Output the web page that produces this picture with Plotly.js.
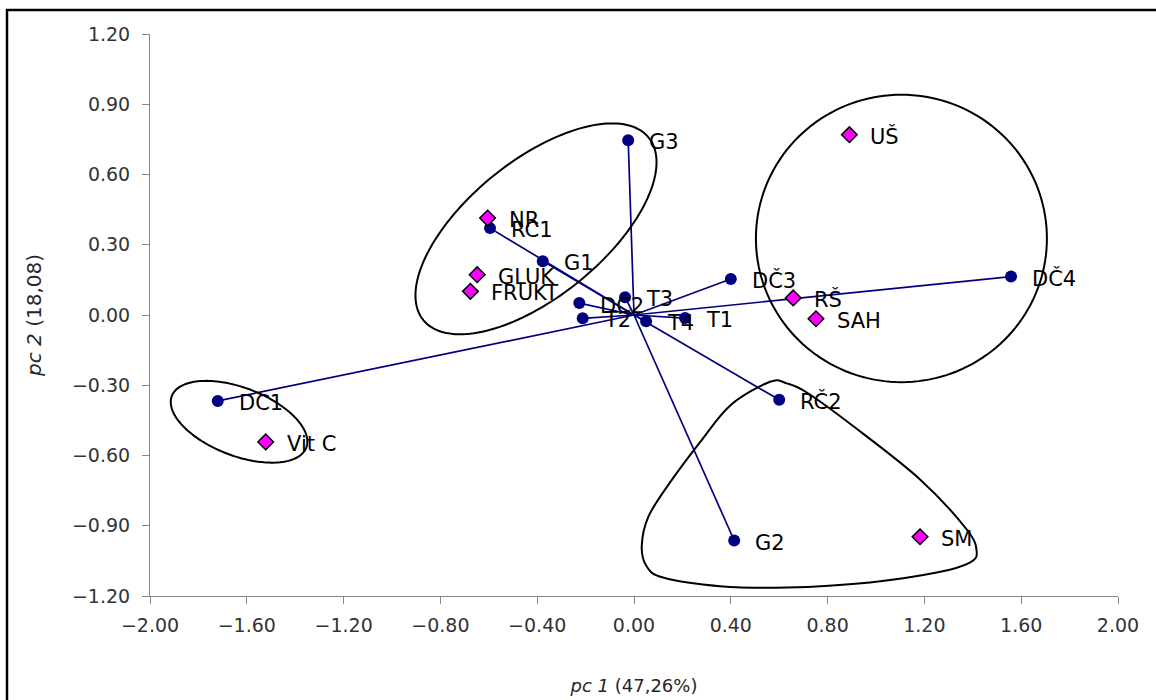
<!DOCTYPE html>
<html>
<head>
<meta charset="utf-8">
<script src="https://cdn.plot.ly/plotly-3.0.1.min.js"></script>
<style>
  html, body { margin: 0; padding: 0; background: #fff; }
  #chart { width: 1156px; height: 700px; }
</style>
</head>
<body>
<div id="chart"></div>
<script>
// PCA biplot: sample scores (navy, joined to the origin) and traits (magenta diamonds)
const sampleNames = ['G3', 'RC1', 'G1', 'DČ2', 'T3', 'T2', 'T4', 'T1', 'DČ3', 'DČ4', 'RČ2', 'G2', 'DC1'];
const samplePc1 = [-0.024, -0.595, -0.377, -0.226, -0.037, -0.212, 0.050, 0.211, 0.400, 1.558, 0.600, 0.414, -1.720];
const samplePc2 = [0.746, 0.371, 0.230, 0.051, 0.076, -0.014, -0.027, -0.013, 0.154, 0.164, -0.362, -0.963, -0.367];

const traitNames = ['NR', 'GLUK', 'FRUKT', 'UŠ', 'RŠ', 'SAH', 'Vit C', 'SM'];
const traitPc1 = [-0.605, -0.648, -0.676, 0.890, 0.658, 0.752, -1.522, 1.182];
const traitPc2 = [0.414, 0.172, 0.101, 0.770, 0.073, -0.016, -0.542, -0.947];

const xTicks = [-2.0, -1.6, -1.2, -0.8, -0.4, 0.0, 0.4, 0.8, 1.2, 1.6, 2.0];
const yTicks = [-1.2, -0.9, -0.6, -0.3, 0.0, 0.3, 0.6, 0.9, 1.2];

// page geometry
const W = 1156, H = 700;
const M = { l: 150, r: 38, t: 34, b: 104 };
const xRange = [-2, 2], yRange = [-1.2, 1.2];
const pxX = (W - M.l - M.r) / (xRange[1] - xRange[0]);
const pxY = (H - M.t - M.b) / (yRange[1] - yRange[0]);

// group outlines: ellipses given by centre (data units), semi-axes and tilt (screen px / deg)
function ellipsePath(cx, cy, aPx, bPx, angDeg) {
  const phi = angDeg * Math.PI / 180;
  const n = 160;
  let d = '';
  for (let i = 0; i <= n; i++) {
    const t = 2 * Math.PI * i / n;
    const dx = aPx * Math.cos(t) * Math.cos(phi) - bPx * Math.sin(t) * Math.sin(phi);
    const dy = aPx * Math.cos(t) * Math.sin(phi) + bPx * Math.sin(t) * Math.cos(phi);
    const x = cx + dx / pxX, y = cy + dy / pxY;
    d += (i === 0 ? 'M' : 'L') + x.toFixed(4) + ',' + y.toFixed(4);
  }
  return d + 'Z';
}

// closed smooth outline through a ring of points (Catmull-Rom as cubic Béziers)
function smoothClosedPath(xs, ys) {
  const n = xs.length;
  const P = i => [xs[(i + n) % n], ys[(i + n) % n]];
  let d = 'M' + xs[0] + ',' + ys[0];
  for (let i = 0; i < n; i++) {
    const p0 = P(i - 1), p1 = P(i), p2 = P(i + 1), p3 = P(i + 2);
    const c1 = [p1[0] + (p2[0] - p0[0]) / 6, p1[1] + (p2[1] - p0[1]) / 6];
    const c2 = [p2[0] - (p3[0] - p1[0]) / 6, p2[1] - (p3[1] - p1[1]) / 6];
    d += 'C' + c1[0].toFixed(4) + ',' + c1[1].toFixed(4) + ' ' +
         c2[0].toFixed(4) + ',' + c2[1].toFixed(4) + ' ' +
         p2[0].toFixed(4) + ',' + p2[1].toFixed(4);
  }
  return d + 'Z';
}

const blobX = [0.562, 0.400, 0.273, 0.149, 0.060, 0.032, 0.052, 0.120, 0.355, 0.631, 0.975, 1.251, 1.388, 1.416, 1.375, 1.182, 0.905, 0.714, 0.631];
const blobY = [-0.285, -0.384, -0.543, -0.715, -0.860, -0.987, -1.073, -1.121, -1.158, -1.164, -1.142, -1.100, -1.057, -1.009, -0.916, -0.702, -0.474, -0.331, -0.292];

// vectors from the origin to every sample score
const vecX = [], vecY = [];
samplePc1.forEach((v, i) => { vecX.push(0, v, null); vecY.push(0, samplePc2[i], null); });

const navy = '#000080';
const traces = [
  { x: vecX, y: vecY, mode: 'lines', type: 'scatter', hoverinfo: 'skip',
    line: { color: navy, width: 1.7 } },
  { x: samplePc1, y: samplePc2, text: sampleNames, mode: 'markers', type: 'scatter',
    marker: { symbol: 'circle', size: 12, color: navy } },
  { x: traitPc1, y: traitPc2, text: traitNames, mode: 'markers', type: 'scatter',
    marker: { symbol: 'diamond', size: 12, color: '#FF00FF', line: { color: '#000', width: 1.5 } } }
];

const labelFont = { family: 'DejaVu Sans, sans-serif', size: 21, color: '#000' };
const annotations = [];
sampleNames.forEach((n, i) => annotations.push({
  x: samplePc1[i], y: samplePc2[i], text: n, showarrow: false,
  xanchor: 'left', yanchor: 'middle', xshift: 19, yshift: -2, font: labelFont }));
traitNames.forEach((n, i) => annotations.push({
  x: traitPc1[i], y: traitPc2[i], text: n, showarrow: false,
  xanchor: 'left', yanchor: 'middle', xshift: 19, yshift: -2, font: labelFont }));

const outline = { color: '#000', width: 2 };
const shapes = [
  { type: 'path', xref: 'x', yref: 'y', path: ellipsePath(-0.405, 0.368, 145, 68, 39), line: outline },
  { type: 'path', xref: 'x', yref: 'y', path: ellipsePath(-1.632, -0.456, 72, 34, -21), line: outline },
  { type: 'path', xref: 'x', yref: 'y', path: ellipsePath(1.105, 0.327, 145.5, 143.7, 0), line: outline },
  { type: 'path', xref: 'x', yref: 'y', path: smoothClosedPath(blobX, blobY), line: outline },
  // frame around the figure
  { type: 'rect', xref: 'paper', yref: 'paper', layer: 'below',
    x0: (7 - M.l) / (W - M.l - M.r), x1: 3,
    y0: -3, y1: 1 + (M.t - 10) / (H - M.t - M.b),
    line: { color: '#000', width: 2.5 } }
];

const tickFont = { family: 'DejaVu Sans, sans-serif', size: 19, color: '#333333' };
const axisBase = {
  showgrid: false, zeroline: false, showline: true, linecolor: '#868686', linewidth: 1,
  ticks: 'outside', ticklen: 7, tickcolor: '#868686', tickwidth: 1,
  tickformat: '.2f', tickfont: tickFont, tickmode: 'array'
};

const layout = {
  width: W, height: H,
  margin: M,
  paper_bgcolor: '#fff', plot_bgcolor: '#fff',
  showlegend: false,
  xaxis: Object.assign({}, axisBase, {
    range: xRange, tickvals: xTicks, ticklabelstandoff: 5,
    title: { text: '<i>pc 1</i> (47,26%)', standoff: 44,
             font: { family: 'DejaVu Sans, sans-serif', size: 18, color: '#262626' } }
  }),
  yaxis: Object.assign({}, axisBase, {
    range: yRange, tickvals: yTicks, ticklabelstandoff: 8,
    title: { text: '<i>pc 2</i> (18,08)', standoff: 24,
             font: { family: 'DejaVu Sans, sans-serif', size: 20, color: '#262626' } }
  }),
  shapes: shapes,
  annotations: annotations
};

Plotly.newPlot('chart', traces, layout, { displayModeBar: false, staticPlot: true });
</script>
</body>
</html>
